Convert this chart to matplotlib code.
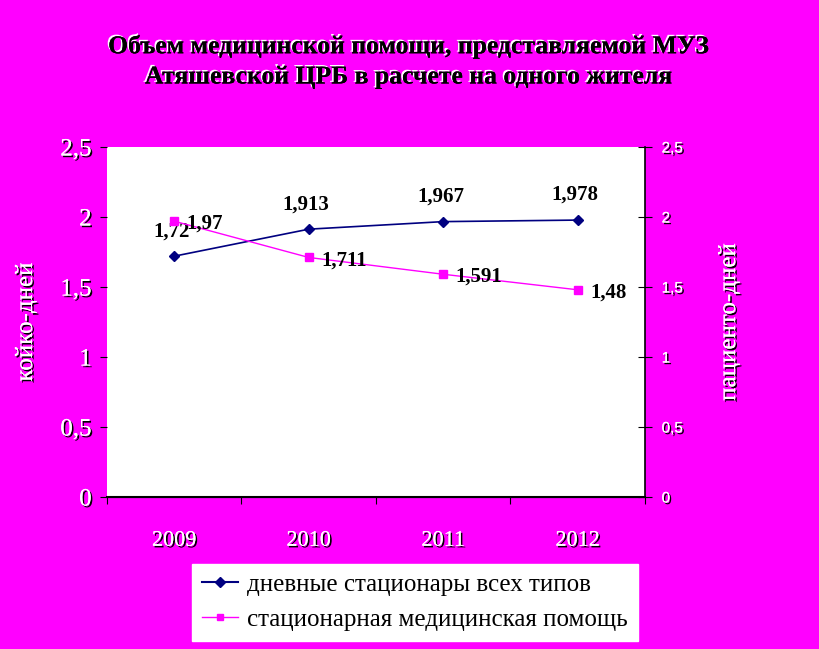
import matplotlib.pyplot as plt
import matplotlib.patheffects as pe

years = ["2009", "2010", "2011", "2012"]
day_stat = [1.72, 1.913, 1.967, 1.978]
hosp = [1.97, 1.711, 1.591, 1.48]
day_lbl = ["1,72", "1,913", "1,967", "1,978"]
hosp_lbl = ["1,97", "1,711", "1,591", "1,48"]
yticks = [0, 0.5, 1, 1.5, 2, 2.5]
ytick_lbl = ["0", "0,5", "1", "1,5", "2", "2,5"]

MAG = "#FF00FF"
NAVY = "#000080"
serif = "Liberation Serif"

white_sh = [pe.withSimplePatchShadow(offset=(1.2, -1.2), shadow_rgbFace="black", alpha=1), pe.Normal()]
title_sh = [pe.withSimplePatchShadow(offset=(-1.2, 1.2), shadow_rgbFace="white", alpha=1), pe.Normal()]

fig = plt.figure(figsize=(8.19, 6.49), dpi=100, facecolor=MAG)
ax = fig.add_axes([0.1306, 0.2342, 0.6569, 0.5393])
ax2 = ax.twinx()
x = list(range(len(years)))

ax.plot(x, day_stat, color=NAVY, marker="D", markersize=5, linewidth=1.2, zorder=3)
ax2.plot(x, hosp, color=MAG, marker="s", markersize=6, linewidth=1, zorder=3)

for i in x:
    ax.annotate(day_lbl[i], (i, day_stat[i]), xytext=(-2, 18), textcoords="offset points",
                ha="center", va="center", fontsize=15, fontweight="bold", family=serif)
    ax2.annotate(hosp_lbl[i], (i, hosp[i]), xytext=(9, -2), textcoords="offset points",
                 ha="left", va="center", fontsize=15, fontweight="bold", family=serif)

ax.set_xlim(-0.5, 3.5)
ax.set_ylim(0, 2.5)
ax2.set_ylim(0, 2.5)
ax.set_facecolor("white")

ax.set_xticks([-0.5, 0.5, 1.5, 2.5, 3.5])
ax.set_xticklabels([])
ax.set_xticks(x, minor=True)
ax.set_xticklabels(years, minor=True)
ax.tick_params(axis="x", which="major", direction="out", length=5, color="black")
ax.tick_params(axis="x", which="minor", length=0, pad=25)
for t in ax.get_xticklabels(minor=True):
    t.set_fontfamily(serif)
    t.set_fontsize(16)
    t.set_color("white")
    t.set_path_effects(white_sh)

ax.set_yticks(yticks)
ax.set_yticklabels(ytick_lbl)
ax.tick_params(axis="y", direction="out", length=5, pad=6)
for t in ax.get_yticklabels():
    t.set_fontfamily(serif)
    t.set_fontsize(18)
    t.set_color("white")
    t.set_path_effects(white_sh)

ax2.set_yticks(yticks)
ax2.set_yticklabels(ytick_lbl)
ax2.tick_params(axis="y", direction="inout", length=10, pad=7)
for t in ax2.get_yticklabels():
    t.set_fontfamily("Liberation Sans")
    t.set_fontsize(11)
    t.set_color("white")
    t.set_path_effects(white_sh)

for a in (ax, ax2):
    a.spines["top"].set_visible(False)
    a.spines["left"].set_visible(False)
ax.spines["right"].set_visible(False)
ax2.spines["right"].set_linewidth(1.2)
ax.spines["bottom"].set_linewidth(1.5)

ax.set_ylabel("койко-дней", fontsize=18, family=serif, color="white", path_effects=white_sh)
ax.yaxis.set_label_coords(-0.13, 0.5)
ax2.set_ylabel("пациенто-дней", fontsize=18, family=serif, color="white", path_effects=white_sh,
               rotation=90)
ax2.yaxis.set_label_coords(1.135, 0.5)

fig.text(0.5, 0.905, "Объем медицинской помощи, представляемой МУЗ\nАтяшевской ЦРБ в расчете на одного жителя",
         ha="center", va="center", fontsize=18.5, fontweight="bold", family=serif,
         linespacing=1.4, path_effects=title_sh)

h1, = ax.plot([], [], color=NAVY, marker="D", markersize=5, linewidth=1.5)
h2, = ax.plot([], [], color=MAG, marker="s", markersize=5, linewidth=1)
leg = fig.legend([h1, h2], ["дневные стационары всех типов", "стационарная медицинская помощь"],
                 loc="lower left", bbox_to_anchor=(0.2344, 0.0123), fancybox=False,
                 framealpha=1, edgecolor="white", prop={"family": serif, "size": 18},
                 handlelength=1.45, borderpad=0.4, labelspacing=0.5, handletextpad=0.35,
                 borderaxespad=0)

plt.savefig("out.png", dpi=100, facecolor=MAG)
